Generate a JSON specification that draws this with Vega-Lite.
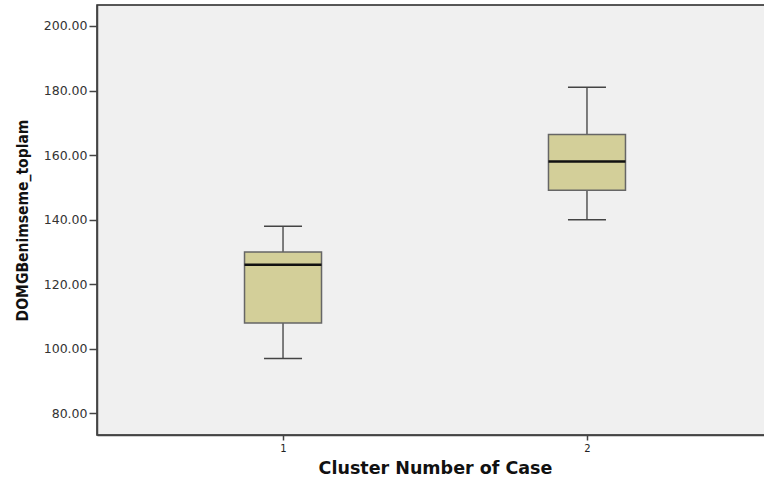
{
  "$schema": "https://vega.github.io/schema/vega-lite/v6.json",
  "autosize": {"type": "none"},
  "padding": {"left": 97, "top": 5, "right": 0, "bottom": 49},
  "width": 676,
  "height": 430,
  "background": "white",
  "data": {
    "values": [
      {"cluster": "1", "lower": 97, "q1": 108, "median": 126, "q3": 130, "upper": 138},
      {"cluster": "2", "lower": 140, "q1": 149.1, "median": 158, "q3": 166.4, "upper": 181}
    ]
  },
  "config": {
    "view": {"fill": "#f0f0f0", "stroke": "#222", "strokeWidth": 1.5},
    "axis": {"grid": false, "labelFont": "DejaVu Sans", "titleFont": "DejaVu Sans"}
  },
  "encoding": {
    "x": {
      "field": "cluster",
      "type": "ordinal",
      "scale": {"type": "point", "padding": 0.612},
      "axis": {
        "title": "Cluster Number of Case",
        "titleFontSize": 17.5,
        "titleFontWeight": "bold",
        "titleColor": "#111",
        "titlePadding": 6,
        "labelAngle": 0,
        "labelFontSize": 10,
        "labelColor": "#222",
        "labelPadding": 3,
        "tickSize": 5,
        "tickColor": "#444",
        "tickWidth": 1.5,
        "domainColor": "#444",
        "domainWidth": 1.5
      }
    }
  },
  "layer": [
    {
      "mark": {"type": "rule", "color": "#555", "strokeWidth": 1.5},
      "encoding": {
        "y": {
          "field": "lower",
          "type": "quantitative",
          "scale": {"domain": [73.3, 206.5], "nice": false, "zero": false},
          "axis": {
            "title": "DOMGBenimseme_toplam",
            "titleFont": "DejaVu Sans Condensed, Liberation Sans",
            "titleFontSize": 15.5,
            "titleFontWeight": "bold",
            "titleColor": "#111",
            "titlePadding": 13,
            "values": [80, 100, 120, 140, 160, 180, 200],
            "format": ".2f",
            "labelFontSize": 12.5,
            "labelColor": "#333",
            "labelPadding": 2,
            "tickSize": 8,
            "tickColor": "#444",
            "tickWidth": 1.5,
            "domainColor": "#444",
            "domainWidth": 1.5
          }
        },
        "y2": {"field": "upper"}
      }
    },
    {
      "mark": {"type": "tick", "color": "#444", "opacity": 1, "thickness": 1.5, "size": 38},
      "encoding": {"y": {"field": "lower", "type": "quantitative"}}
    },
    {
      "mark": {"type": "tick", "color": "#444", "opacity": 1, "thickness": 1.5, "size": 38},
      "encoding": {"y": {"field": "upper", "type": "quantitative"}}
    },
    {
      "mark": {"type": "bar", "size": 77, "fill": "#d3cf99", "opacity": 1, "stroke": "#666", "strokeWidth": 1.5},
      "encoding": {
        "y": {"field": "q1", "type": "quantitative"},
        "y2": {"field": "q3"}
      }
    },
    {
      "mark": {"type": "tick", "color": "#111", "opacity": 1, "thickness": 2.5, "size": 77},
      "encoding": {"y": {"field": "median", "type": "quantitative"}}
    }
  ]
}
